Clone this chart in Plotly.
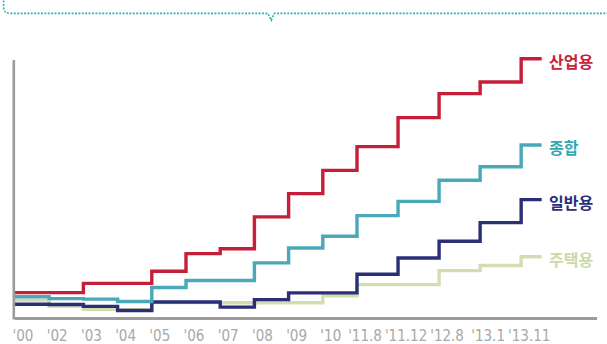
import plotly.graph_objects as go

# Periods on the x axis
periods = ["'00", "'02", "'03", "'04", "'05", "'06", "'07", "'08", "'09",
           "'10", "'11.8", "'11.12", "'12.8", "'13.1", "'13.11"]

# Cumulative index per period (step values)
industrial = [10.0, 10.0, 13.6, 13.6, 18.3, 25.1, 27.0, 39.3, 48.3, 57.3,
              66.5, 77.7, 87.0, 91.5, 100.5]
overall = [8.4, 7.7, 7.5, 6.6, 12.0, 14.7, 14.7, 21.5, 27.3, 31.8,
           39.8, 45.3, 53.5, 58.7, 67.1]
general = [5.5, 5.4, 4.7, 3.1, 6.4, 6.4, 4.4, 7.3, 9.9, 9.9,
           17.1, 23.4, 29.9, 37.1, 46.0]
residential = [7.1, 4.8, 3.6, 3.4, 6.2, 6.2, 6.1, 6.1, 6.1, 8.8,
               13.1, 13.1, 18.5, 20.5, 23.9]

series_names = ["산업용", "종합", "일반용", "주택용"]

W, H = 607, 344
M = dict(l=15, r=10, t=56, b=26.5)
PW = W - M["l"] - M["r"]
PH = H - M["t"] - M["b"]

line_colors = {"산업용": "#c61f3a", "종합": "#4aa9b8", "일반용": "#2b2f78", "주택용": "#d2ddb0"}
text_colors = {"산업용": "#c8223c", "종합": "#2fa8b5", "일반용": "#2b2f78", "주택용": "#cbd9a8"}

data = {"산업용": industrial, "종합": overall, "일반용": general, "주택용": residential}

# Month-level periods get a slightly wider slot than whole years
slots = [1.2 if "." in p else 1.0 for p in periods]
xs = [0.0]
for s in slots[:-1]:
    xs.append(xs[-1] + s)
x_end = xs[-1] + 0.5 * slots[-1]  # the latest period is drawn half-length

fig = go.Figure()
# draw back-to-front so the lower series sit underneath
for name in ["주택용", "일반용", "종합", "산업용"]:
    vals = data[name]
    fig.add_trace(go.Scatter(
        x=xs + [x_end], y=vals + [vals[-1]],
        mode="lines", line=dict(color=line_colors[name], width=3.4, shape="hv"),
        hoverinfo="skip", showlegend=False,
    ))
    fig.add_annotation(
        x=x_end, y=vals[-1], xref="x", yref="y", text=name, showarrow=False,
        xanchor="left", yanchor="middle", xshift=5, yshift=-2,
        font=dict(family="Noto Sans CJK KR", size=16, color=text_colors[name], weight=700),
    )


def px_to_paper(px, py):
    return (px - M["l"]) / PW, (H - M["b"] - py) / PH


# dashed speech-bubble border along the top
pts = [(3.6, -3), (3.6, 7), (3.6, 13.3), (10, 13.3), (268, 13.3), (271.2, 20.2), (274.4, 13.3), (612, 13.3)]
pp = [px_to_paper(*p) for p in pts]
path = (f"M {pp[0][0]},{pp[0][1]} L {pp[1][0]},{pp[1][1]} "
        f"Q {pp[2][0]},{pp[2][1]} {pp[3][0]},{pp[3][1]} "
        f"L {pp[4][0]},{pp[4][1]} L {pp[5][0]},{pp[5][1]} L {pp[6][0]},{pp[6][1]} "
        f"L {pp[7][0]},{pp[7][1]}")
fig.add_shape(type="path", path=path, xref="paper", yref="paper",
              line=dict(color="#2bb3c0", width=1.6, dash="2px,1.4px"))

# left axis line (a little shorter than the plotting area)
ax0 = px_to_paper(13.8, 320)
ax1 = px_to_paper(13.8, 60)
fig.add_shape(type="line", xref="paper", yref="paper", x0=ax0[0], x1=ax1[0], y0=ax0[1], y1=ax1[1],
              line=dict(color="#9c9c9c", width=2.6))

unit = 2.59  # pixels per index unit
fig.update_layout(
    width=W, height=H, margin=M,
    paper_bgcolor="white", plot_bgcolor="white",
    xaxis=dict(
        range=[0, PW / 34.2], tickmode="array", tickvals=xs, ticktext=periods,
        showgrid=False, zeroline=False, showline=True, linecolor="#9c9c9c", linewidth=3,
        ticks="", ticklabelshift=8, ticklabelstandoff=3, tickangle=0, automargin=False,
        tickfont=dict(family="Liberation Sans Narrow, DejaVu Sans Condensed, Roboto", size=15, color="#a8a8a8"),
        fixedrange=True,
    ),
    yaxis=dict(
        range=[1.5 / unit, (319 - M["t"]) / unit], showgrid=False, zeroline=False,
        showline=False, showticklabels=False, ticks="",
        automargin=False, fixedrange=True,
    ),
)

fig.write_html("out.html")
